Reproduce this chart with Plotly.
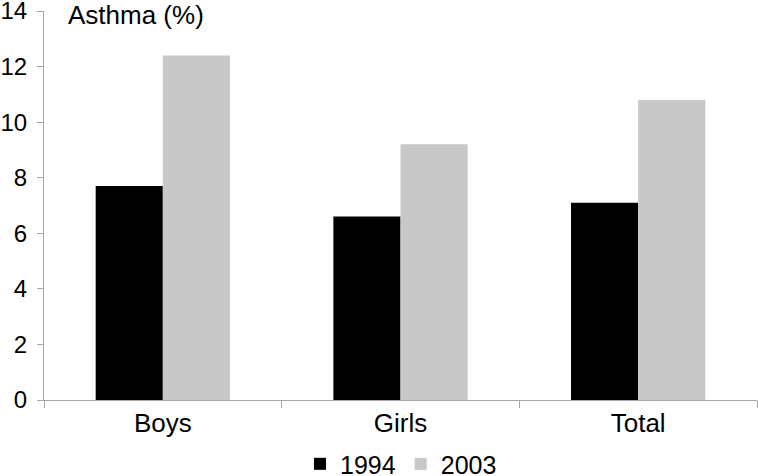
import plotly.graph_objects as go

categories = ["Boys", "Girls", "Total"]
series_names = ["1994", "2003"]
values_1994 = [7.7, 6.6, 7.1]
values_2003 = [12.4, 9.2, 10.8]
y_ticks = [0, 2, 4, 6, 8, 10, 12, 14]

FONT = "Liberation Sans, Arial, Helvetica, sans-serif"

fig = go.Figure()
fig.add_trace(go.Bar(x=categories, y=values_1994, name=series_names[0],
                     marker=dict(color="#000000", line=dict(width=0))))
fig.add_trace(go.Bar(x=categories, y=values_2003, name=series_names[1],
                     marker=dict(color="#c8c8c8", line=dict(width=0))))

fig.update_layout(
    width=758, height=476,
    margin=dict(l=44, r=1, t=11, b=76, autoexpand=False),
    paper_bgcolor="white", plot_bgcolor="white",
    barmode="group", bargap=0.435, bargroupgap=0,
    font=dict(family=FONT, size=24, color="#000000"),
    showlegend=True,
    legend=dict(orientation="h", xref="container", yref="container",
                x=0.3958, xanchor="left", y=0.025, yanchor="middle",
                font=dict(size=25), itemwidth=30, traceorder="normal",
                tracegroupgap=0, itemsizing="constant"),
    xaxis=dict(showline=True, linecolor="#a6a6a6", linewidth=1, automargin=False,
               ticks="outside", tickson="boundaries", ticklen=7, tickcolor="#a6a6a6",
               showgrid=False, tickfont=dict(size=26)),
    yaxis=dict(range=[0, 14], tickvals=y_ticks, showline=True, linecolor="#a6a6a6",
               linewidth=1, ticks="outside", ticklen=6, tickcolor="#a6a6a6",
               showgrid=False, zeroline=False, tickfont=dict(size=24), automargin=False,
               ticklabeloverflow="allow", ticklabelstandoff=5),
    annotations=[dict(text="Asthma (%)", xref="paper", yref="paper", x=0.031, y=1.0,
                      xanchor="left", yanchor="middle", yshift=-4, showarrow=False,
                      font=dict(size=26))],
)

fig.write_html("out.html", config={"displayModeBar": False},
               post_script="document.body.style.margin='0';document.body.style.overflow='hidden';")
